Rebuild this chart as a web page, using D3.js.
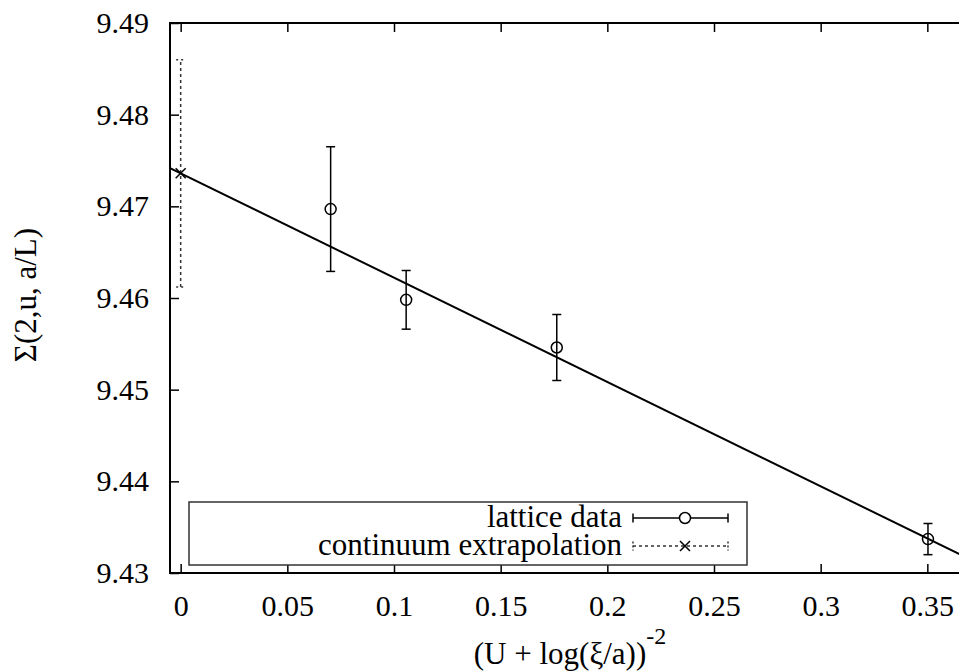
<!DOCTYPE html>
<html>
<head>
<meta charset="utf-8">
<script src="https://cdn.jsdelivr.net/npm/d3@7"></script>
<style>
  html, body { margin: 0; padding: 0; background: #fff; overflow: hidden; }
</style>
</head>
<body>
<div id="container"></div>
<script>
// lattice data points
const latticeX = [0.0703, 0.1057, 0.1763, 0.3503]
const latticeY = [9.4697, 9.4598, 9.4546, 9.4337]
const latticeErr = [0.0068, 0.0032, 0.0036, 0.0017]

// continuum extrapolation (x = 0)
const contX = [0]
const contY = [9.4736]
const contErr = [0.0124]

// straight fit through the lattice data
const fitIntercept = [9.4736]
const fitSlope = [-0.1138]

const xTicks = [0, 0.05, 0.1, 0.15, 0.2, 0.25, 0.3, 0.35]
const xTickLabels = ['0', '0.05', '0.1', '0.15', '0.2', '0.25', '0.3', '0.35']
const yTicks = [9.43, 9.44, 9.45, 9.46, 9.47, 9.48, 9.49]
const yTickLabels = ['9.43', '9.44', '9.45', '9.46', '9.47', '9.48', '9.49']

const legendLabels = ['lattice data', 'continuum extrapolation']

const W = 959, H = 671
const pLeft = 170, pRight = 970, pTop = 23, pBottom = 573
const fontSize = 30
const serif = "'Liberation Serif', 'Times New Roman', Times, serif"

const svg = d3.select('#container').append('svg')
  .attr('width', W)
  .attr('height', H)
  .attr('font-family', serif)

const x = d3.scaleLinear()
  .domain([-0.005, 0.37])
  .range([pLeft, pRight])

const y = d3.scaleLinear()
  .domain([9.43, 9.49])
  .range([pBottom, pTop])

// clip for the fit line
svg.append('clipPath').attr('id', 'plotClip')
  .append('rect')
  .attr('x', pLeft).attr('y', pTop)
  .attr('width', pRight - pLeft).attr('height', pBottom - pTop)

// axes (inward ticks)
const xAxis = d3.axisBottom(x)
  .tickValues(xTicks)
  .tickFormat((d, i) => xTickLabels[i])
  .tickSizeInner(-9).tickSizeOuter(0).tickPadding(22)
svg.append('g')
  .attr('transform', `translate(0,${pBottom})`)
  .call(xAxis)
  .attr('font-family', serif)
  .attr('font-size', fontSize)
  .call(g => g.select('.domain').remove())
  .call(g => g.selectAll('line').attr('stroke-width', 1.5))

const xAxisTop = d3.axisTop(x)
  .tickValues(xTicks)
  .tickFormat('')
  .tickSizeInner(-9).tickSizeOuter(0)
svg.append('g')
  .attr('transform', `translate(0,${pTop})`)
  .call(xAxisTop)
  .call(g => g.select('.domain').remove())
  .call(g => g.selectAll('line').attr('stroke-width', 1.5))

const yAxis = d3.axisLeft(y)
  .tickValues(yTicks)
  .tickFormat((d, i) => yTickLabels[i])
  .tickSizeInner(-9).tickSizeOuter(0).tickPadding(21)
svg.append('g')
  .attr('transform', `translate(${pLeft},0)`)
  .call(yAxis)
  .attr('font-family', serif)
  .attr('font-size', fontSize)
  .call(g => g.select('.domain').remove())
  .call(g => g.selectAll('line').attr('stroke-width', 1.5))

const yAxisRight = d3.axisRight(y)
  .tickValues(yTicks)
  .tickFormat('')
  .tickSizeInner(-9).tickSizeOuter(0)
svg.append('g')
  .attr('transform', `translate(${pRight},0)`)
  .call(yAxisRight)
  .call(g => g.select('.domain').remove())

// frame
svg.append('rect')
  .attr('x', pLeft).attr('y', pTop)
  .attr('width', pRight - pLeft).attr('height', pBottom - pTop)
  .attr('fill', 'none')
  .attr('stroke', '#000')
  .attr('stroke-width', 2)

// axis titles
svg.append('text')
  .attr('transform', `translate(25,${(pTop + pBottom) / 2 - 3}) rotate(-90)`)
  .attr('text-anchor', 'middle')
  .attr('dominant-baseline', 'central')
  .attr('font-size', 31)
  .text('Σ(2,u, a/L)')

const xTitle = svg.append('text')
  .attr('x', (pLeft + pRight) / 2)
  .attr('y', 664)
  .attr('text-anchor', 'middle')
  .attr('font-size', 31)
xTitle.append('tspan').text('(U + log(ξ/a))')
xTitle.append('tspan').attr('dy', -20).attr('font-size', 24).text('-2')

// fit line
const fitLine = d3.line()
  .x(d => x(d))
  .y(d => y(fitIntercept[0] + fitSlope[0] * d))
svg.append('path')
  .datum(x.domain())
  .attr('clip-path', 'url(#plotClip)')
  .attr('d', fitLine)
  .attr('fill', 'none')
  .attr('stroke', '#000')
  .attr('stroke-width', 2)

const cap = 4.5

// continuum extrapolation, dotted
const contG = svg.append('g')
  .attr('stroke', '#333')
  .attr('stroke-width', 1.5)
  .attr('fill', 'none')
contX.forEach((cx, i) => {
  const px = x(cx)
  contG.append('line')
    .attr('x1', px).attr('x2', px)
    .attr('y1', y(contY[i] - contErr[i])).attr('y2', y(contY[i] + contErr[i]))
    .attr('stroke-dasharray', '3,3')
  ;[contY[i] - contErr[i], contY[i] + contErr[i]].forEach(v => {
    contG.append('line')
      .attr('x1', px - cap).attr('x2', px + cap)
      .attr('y1', y(v)).attr('y2', y(v))
      .attr('stroke-dasharray', '2,3')
  })
  const py = y(contY[i])
  contG.append('path')
    .attr('d', `M${px - 5},${py - 5}L${px + 5},${py + 5}M${px - 5},${py + 5}L${px + 5},${py - 5}`)
    .attr('stroke', '#000')
})

// lattice data with error bars
const latG = svg.append('g')
  .attr('stroke', '#000')
  .attr('stroke-width', 1.5)
  .attr('fill', 'none')
latticeX.forEach((lx, i) => {
  const px = x(lx)
  const lo = y(latticeY[i] - latticeErr[i])
  const hi = y(latticeY[i] + latticeErr[i])
  latG.append('line')
    .attr('x1', px).attr('x2', px).attr('y1', lo).attr('y2', hi)
  latG.append('line')
    .attr('x1', px - cap).attr('x2', px + cap).attr('y1', lo).attr('y2', lo)
  latG.append('line')
    .attr('x1', px - cap).attr('x2', px + cap).attr('y1', hi).attr('y2', hi)
  latG.append('circle')
    .attr('cx', px).attr('cy', y(latticeY[i]))
    .attr('r', 5.5)
})

// legend
const legend = svg.append('g')
legend.append('rect')
  .attr('x', 189).attr('y', 502)
  .attr('width', 558).attr('height', 63)
  .attr('fill', '#fff')
  .attr('stroke', '#333')
  .attr('stroke-width', 1.5)

const rowY = [518, 546]
legendLabels.forEach((lab, i) => {
  legend.append('text')
    .attr('x', 622)
    .attr('y', rowY[i])
    .attr('dy', '0.3em')
    .attr('text-anchor', 'end')
    .attr('font-size', 31)
    .text(lab)
})

// legend sample: lattice
const s0 = legend.append('g').attr('stroke', '#000').attr('stroke-width', 1.5).attr('fill', 'none')
s0.append('line').attr('x1', 633).attr('x2', 728).attr('y1', rowY[0]).attr('y2', rowY[0])
s0.append('line').attr('x1', 633).attr('x2', 633).attr('y1', rowY[0] - cap).attr('y2', rowY[0] + cap)
s0.append('line').attr('x1', 728).attr('x2', 728).attr('y1', rowY[0] - cap).attr('y2', rowY[0] + cap)
s0.append('circle').attr('cx', 685).attr('cy', rowY[0]).attr('r', 5.5).attr('fill', '#fff')

// legend sample: continuum
const s1 = legend.append('g').attr('stroke', '#333').attr('stroke-width', 1.5).attr('fill', 'none')
s1.append('line').attr('x1', 633).attr('x2', 728).attr('y1', rowY[1]).attr('y2', rowY[1])
  .attr('stroke-dasharray', '3,3')
s1.append('line').attr('x1', 633).attr('x2', 633).attr('y1', rowY[1] - cap).attr('y2', rowY[1] + cap)
  .attr('stroke-dasharray', '2,2')
s1.append('line').attr('x1', 728).attr('x2', 728).attr('y1', rowY[1] - cap).attr('y2', rowY[1] + cap)
  .attr('stroke-dasharray', '2,2')
s1.append('path')
  .attr('d', `M680,${rowY[1] - 5}L690,${rowY[1] + 5}M680,${rowY[1] + 5}L690,${rowY[1] - 5}`)
  .attr('stroke', '#000')
</script>
</body>
</html>
